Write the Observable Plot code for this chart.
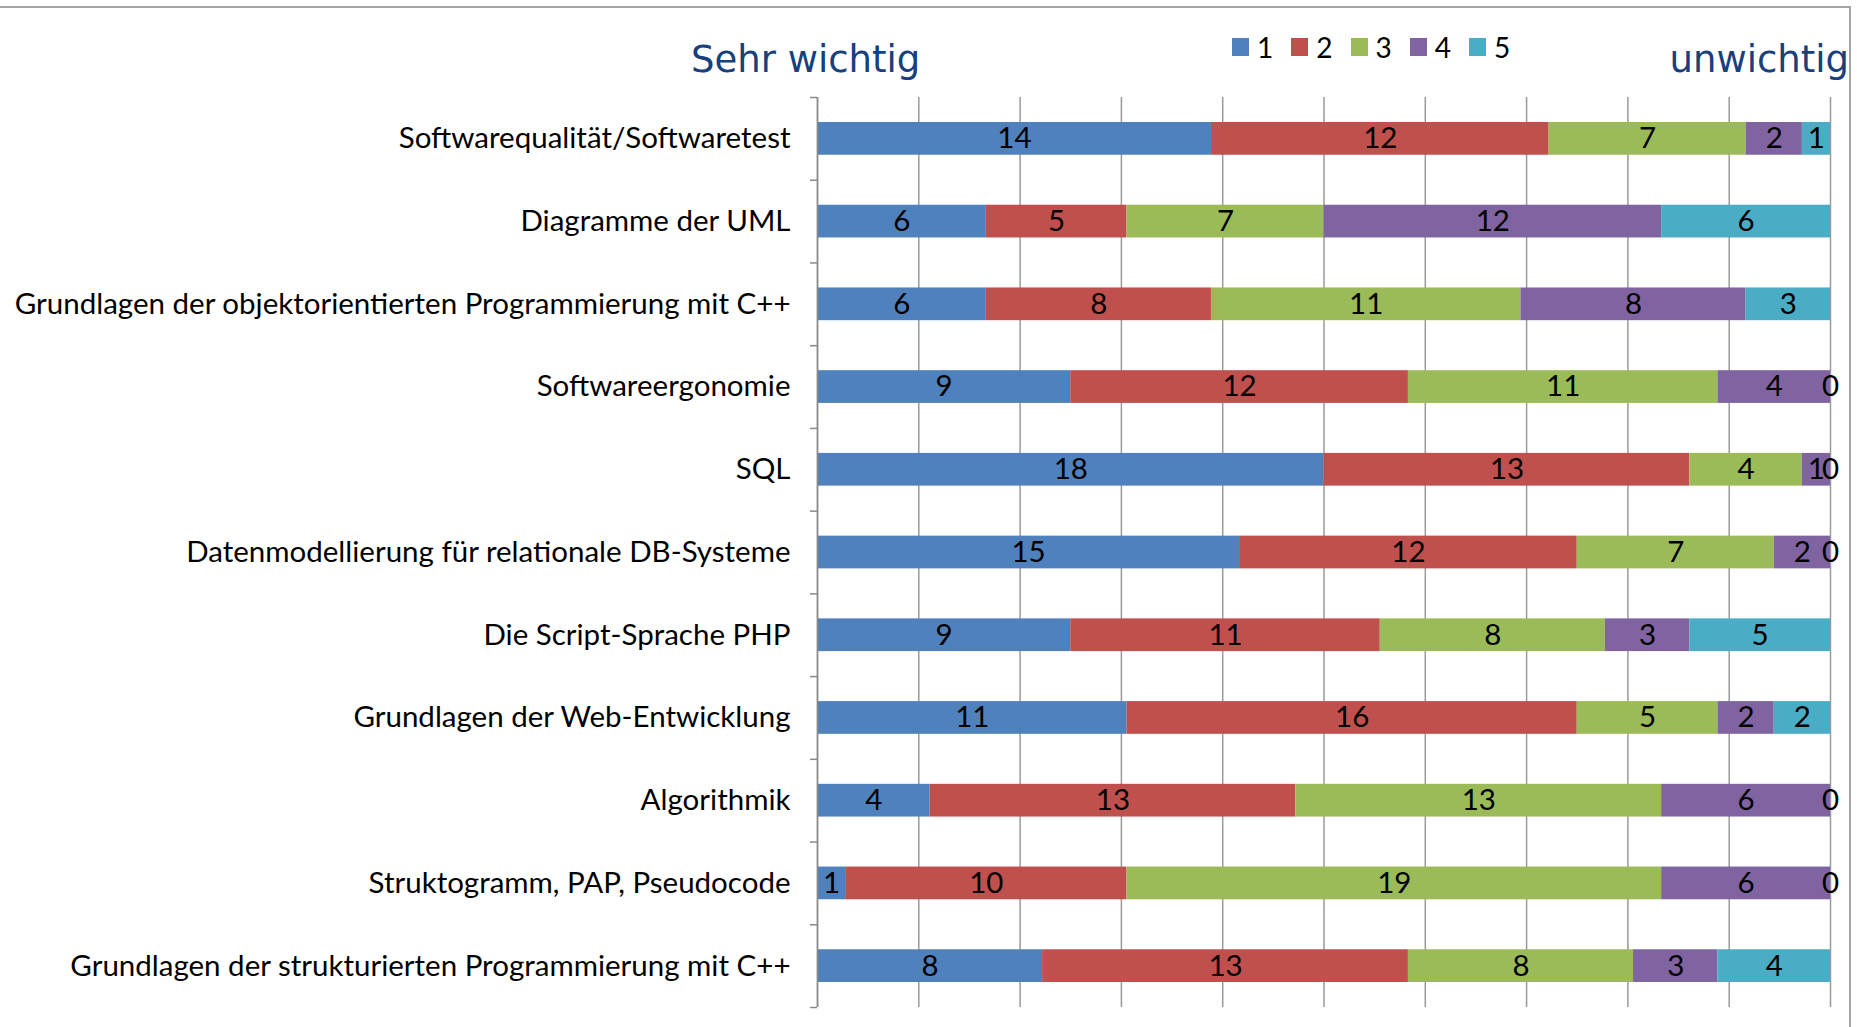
<!DOCTYPE html>
<html>
<head>
<meta charset="utf-8">
<script src="https://cdn.jsdelivr.net/npm/d3@7"></script>
<script src="https://cdn.jsdelivr.net/npm/@observablehq/plot@0.6"></script>
<style>
  html, body { margin: 0; padding: 0; background: #fff; }
  #wrap { position: relative; width: 1857px; height: 1027px; overflow: hidden; }
  #frame { position: absolute; left: 0; top: 6px; width: 1851px; height: 1030px; border-top: 2px solid #a6a6a6; border-right: 2px solid #a6a6a6; box-sizing: border-box; pointer-events: none; }
  .head { position: absolute; font-family: "DejaVu Sans", sans-serif; font-size: 37px; color: #17407c; line-height: 1; }
  #legend { position: absolute; left: 1232px; top: 30px; display: flex; align-items: center; font-family: Lato, sans-serif; font-size: 28px; color: #000; }
  #legend .item { display: flex; align-items: center; margin-right: 18px; }
  #legend .sw { width: 17px; height: 18px; margin-right: 8px; }
  #chart { position: absolute; left: 0; top: 0; }
</style>
</head>
<body>
<div id="wrap">
  <div id="chart"></div>
  <div id="frame"></div>
  <div class="head" id="t1" style="left:691px; top:41px;">Sehr wichtig</div>
  <div class="head" id="t2" style="right:8px; top:41px;">unwichtig</div>
  <div id="legend"></div>
</div>
<script>
const categories = [
  "Softwarequalität/Softwaretest",
  "Diagramme der UML",
  "Grundlagen der objektorientierten Programmierung mit C++",
  "Softwareergonomie",
  "SQL",
  "Datenmodellierung für relationale DB-Systeme",
  "Die Script-Sprache PHP",
  "Grundlagen der Web-Entwicklung",
  "Algorithmik",
  "Struktogramm, PAP, Pseudocode",
  "Grundlagen der strukturierten Programmierung mit C++"
];
const ratings = ["1", "2", "3", "4", "5"];
const rating1 = [14, 6, 6, 9, 18, 15, 9, 11, 4, 1, 8];
const rating2 = [12, 5, 8, 12, 13, 12, 11, 16, 13, 10, 13];
const rating3 = [7, 7, 11, 11, 4, 7, 8, 5, 13, 19, 8];
const rating4 = [2, 12, 8, 4, 1, 2, 3, 2, 6, 6, 3];
const rating5 = [1, 6, 3, 0, 0, 0, 5, 2, 0, 0, 4];
const colors = ["#4f81bd", "#c0504d", "#9bbb59", "#8064a2", "#4bacc6"];
const gridSteps = d3.range(0, 11);

const series = [rating1, rating2, rating3, rating4, rating5];
const data = [];
categories.forEach((c, i) => {
  ratings.forEach((r, j) => {
    data.push({topic: c, rating: r, value: series[j][i]});
  });
});
const total = d3.sum(series, s => s[0]);

const W = 1857, H = 1027, mT = 97, mB = 20, mL = 817, mR = 27;
const step = (H - mT - mB) / categories.length;
const labelFont = "Lato, sans-serif";
const fs = 29.5;

const chart = Plot.plot({
  width: W,
  height: H,
  marginTop: mT,
  marginBottom: mB,
  marginLeft: mL,
  marginRight: mR,
  style: {fontFamily: labelFont, fontSize: fs + "px", color: "#000", background: "transparent"},
  x: {domain: [0, total], axis: null},
  y: {domain: categories, padding: 0, round: false, axis: null},
  color: {domain: ratings, range: colors},
  marks: [
    Plot.gridX(gridSteps.map(i => i * total / 10), {stroke: "#9a9a9a", strokeOpacity: 1, strokeWidth: 1.5}),
    Plot.barX(data, Plot.stackX({x: "value", y: "topic", fill: "rating", insetTop: 25, insetBottom: 25})),
    Plot.text(data, Plot.stackX({x: "value", y: "topic", z: "rating", text: d => String(d.value), fill: "#000", fontSize: fs, fontFamily: labelFont})),
    Plot.ruleX([0], {stroke: "#8a8a8a", strokeWidth: 1.5}),
    Plot.axisY({tickSize: 0, tickPadding: 27, fontSize: fs, fontFamily: labelFont, fill: "#000", label: null}),
    Plot.axisY({text: null, tickSize: 7, dy: step / 2, stroke: "#8a8a8a", strokeWidth: 1.5, label: null}),
    Plot.axisY([categories[0]], {text: null, tickSize: 7, dy: -step / 2, stroke: "#8a8a8a", strokeWidth: 1.5, label: null})
  ]
});
document.getElementById("chart").appendChild(chart);

const legend = document.getElementById("legend");
ratings.forEach((r, i) => {
  const item = document.createElement("div");
  item.className = "item";
  const sw = document.createElement("span");
  sw.className = "sw";
  sw.style.background = colors[i];
  const lab = document.createElement("span");
  lab.textContent = r;
  item.appendChild(sw);
  item.appendChild(lab);
  legend.appendChild(item);
});
</script>
</body>
</html>
